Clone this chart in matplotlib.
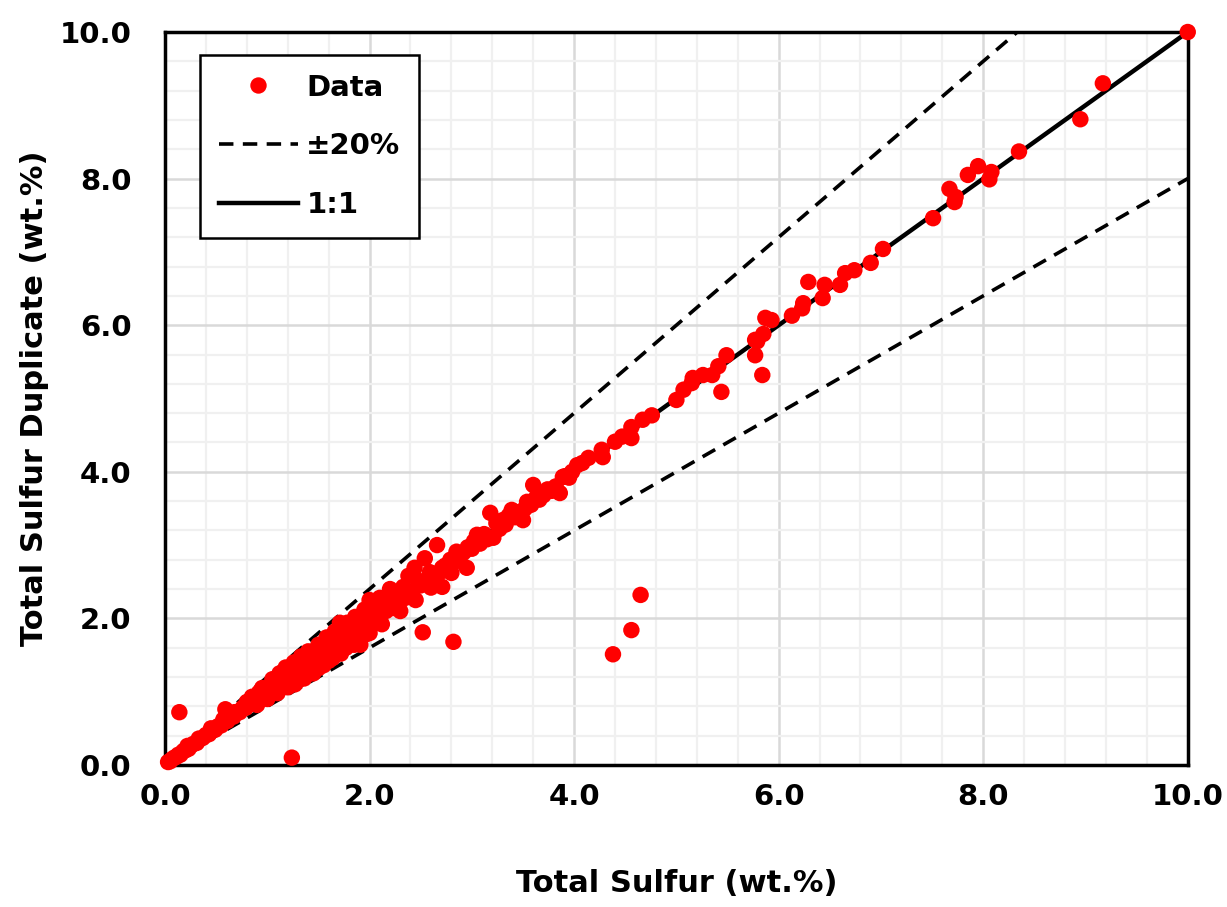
import matplotlib
matplotlib.use('Agg')
import matplotlib.pyplot as plt
from matplotlib.ticker import MultipleLocator, FormatStrFormatter
from matplotlib.lines import Line2D

x_low = [0.03, 0.05, 0.07, 0.09, 0.11, 0.13, 0.15, 0.18, 0.20, 0.23, 0.26, 0.28,
         0.31, 0.34, 0.37, 0.40, 0.43, 0.46, 0.49, 0.52, 0.55, 0.58, 0.59, 0.61,
         0.64, 0.67, 0.70, 0.73, 0.76, 0.79, 0.82, 0.85, 0.88, 0.91, 0.94, 0.97, 1.00,
         0.22, 0.33, 0.45, 0.57, 0.68, 0.80, 0.92]
y_low = [0.04, 0.05, 0.08, 0.10, 0.11, 0.14, 0.14, 0.19, 0.20, 0.22, 0.27, 0.29,
         0.30, 0.35, 0.37, 0.41, 0.42, 0.47, 0.48, 0.53, 0.54, 0.59, 0.76, 0.60,
         0.66, 0.66, 0.72, 0.72, 0.78, 0.78, 0.84, 0.84, 0.90, 0.90, 0.97, 0.96, 1.03,
         0.26, 0.36, 0.50, 0.62, 0.72, 0.86, 0.99]

x_mid = [1.02, 1.04, 1.06, 1.09, 1.11, 1.13, 1.15, 1.17, 1.19, 1.21, 1.23, 1.25,
         1.27, 1.30, 1.32, 1.34, 1.36, 1.39, 1.41, 1.43, 1.45, 1.48, 1.50, 1.52,
         1.55, 1.57, 1.60, 1.62, 1.64, 1.67, 1.69, 1.71, 1.72, 1.75, 1.77, 1.80,
         1.82, 1.84, 1.86, 1.88, 1.90, 1.92, 1.94, 1.96, 1.98, 2.00, 2.01, 2.03]
y_mid = [1.00, 1.10, 1.02, 1.14, 1.05, 1.18, 1.10, 1.22, 1.08, 1.28, 1.16, 1.20,
         1.10, 1.33, 1.22, 1.28, 1.18, 1.42, 1.30, 1.36, 1.25, 1.50, 1.40, 1.45,
         1.36, 1.60, 1.52, 1.58, 1.46, 1.72, 1.62, 1.94, 1.66, 1.80, 1.60, 1.86,
         1.74, 1.80, 1.70, 1.66, 1.95, 1.84, 1.90, 1.78, 2.05, 2.25, 1.94, 2.10]

# upper and lower fringe of the dense band
x_fringe = [0.85, 0.95, 1.05, 1.12, 1.18, 1.26, 1.33, 1.40, 1.50, 1.58, 1.66, 1.78,
            1.86, 1.95, 2.10, 2.20, 2.38,
            0.90, 1.00, 1.10, 1.20, 1.30, 1.40, 1.50, 1.60, 1.72, 1.85, 1.91, 2.00,
            2.12, 2.30, 2.45, 2.60, 2.80]
y_fringe = [0.93, 1.05, 1.17, 1.25, 1.33, 1.40, 1.48, 1.55, 1.64, 1.74, 1.82, 1.94,
            2.02, 2.12, 2.28, 2.40, 2.58,
            0.82, 0.90, 0.98, 1.06, 1.15, 1.24, 1.32, 1.42, 1.52, 1.64, 1.64, 1.80,
            1.92, 2.10, 2.25, 2.42, 2.62]

x_high = [2.05, 2.08, 2.10, 2.13, 2.16, 2.19, 2.23, 2.22, 2.26, 2.30, 2.33, 2.35,
          2.38, 2.41, 2.44, 2.47, 2.50, 2.54, 2.56, 2.59, 2.62, 2.66, 2.68, 2.71,
          2.71, 2.74, 2.77, 2.79, 2.82, 2.85, 2.88, 2.92, 2.95, 2.96, 3.00, 3.02,
          3.05, 3.08, 3.12, 3.15, 3.18, 3.21, 3.24, 3.27, 3.30, 3.33, 3.36, 3.39,
          3.42, 3.46, 3.50, 3.52, 3.54, 3.58, 3.60, 3.63, 3.66, 3.70, 3.74, 3.78,
          3.82, 3.86, 3.89, 3.91, 3.95, 3.98, 4.03, 4.08, 4.14]
y_high = [2.02, 2.15, 2.05, 2.18, 2.10, 2.22, 2.35, 2.14, 2.20, 2.30, 2.43, 2.28,
          2.36, 2.30, 2.69, 2.52, 2.45, 2.82, 2.48, 2.63, 2.55, 3.00, 2.62, 2.69,
          2.43, 2.72, 2.65, 2.80, 2.76, 2.91, 2.82, 2.90, 2.69, 2.97, 2.95, 3.05,
          3.14, 3.02, 3.15, 3.08, 3.44, 3.10, 3.30, 3.22, 3.34, 3.28, 3.40, 3.48,
          3.38, 3.45, 3.34, 3.50, 3.59, 3.55, 3.82, 3.65, 3.62, 3.68, 3.76, 3.74,
          3.80, 3.71, 3.93, 3.94, 3.92, 4.00, 4.09, 4.12, 4.19]

x_top = [4.27, 4.28, 4.40, 4.47, 4.56, 4.56, 4.67, 4.76, 5.00, 5.07, 5.15, 5.16,
         5.26, 5.35, 5.41, 5.44, 5.49, 5.77, 5.77, 5.79, 5.84, 5.85, 5.87, 5.93,
         6.13, 6.23, 6.24, 6.29, 6.43, 6.45, 6.60, 6.65, 6.74, 6.90, 7.02, 7.51,
         7.67, 7.72, 7.73, 7.85, 7.95, 8.06, 8.08, 8.35, 8.95, 9.17, 10.0]
y_top = [4.30, 4.20, 4.41, 4.48, 4.61, 4.46, 4.71, 4.77, 4.98, 5.12, 5.21, 5.28,
         5.32, 5.32, 5.44, 5.09, 5.59, 5.80, 5.59, 5.78, 5.32, 5.88, 6.10, 6.07,
         6.13, 6.23, 6.30, 6.59, 6.37, 6.55, 6.55, 6.71, 6.75, 6.85, 7.04, 7.46,
         7.86, 7.68, 7.75, 8.05, 8.17, 7.99, 8.09, 8.37, 8.81, 9.30, 10.0]

# points well off the 1:1 line
x_out = [0.14, 1.24, 2.52, 2.82, 4.38, 4.56, 4.65]
y_out = [0.72, 0.10, 1.81, 1.68, 1.51, 1.84, 2.32]

x_all = x_low + x_mid + x_fringe + x_high + x_top + x_out
y_all = y_low + y_mid + y_fringe + y_high + y_top + y_out

ref_x = [0.0, 10.0]
ratio_hi = 1.2
ratio_lo = 0.8

plt.rcParams['font.family'] = ['DejaVu Sans']
plt.rcParams['font.weight'] = 'bold'

fig = plt.figure(figsize=(12.27, 9.07), dpi=100)
ax = fig.add_axes([0.1345, 0.1566, 0.8335, 0.8081])

ax.set_axisbelow(True)
ax.xaxis.set_major_locator(MultipleLocator(2.0))
ax.yaxis.set_major_locator(MultipleLocator(2.0))
ax.xaxis.set_minor_locator(MultipleLocator(0.4))
ax.yaxis.set_minor_locator(MultipleLocator(0.4))
ax.grid(which='minor', color='#f0f0f0', lw=1.6)
ax.grid(which='major', color='#d9d9d9', lw=1.8)

ax.plot(ref_x, [v * ratio_hi for v in ref_x], color='black', lw=2.6,
        dashes=(4, 2.6), zorder=2)
ax.plot(ref_x, [v * ratio_lo for v in ref_x], color='black', lw=2.6,
        dashes=(4, 2.6), zorder=2)
ax.plot(ref_x, ref_x, color='black', lw=3.2, zorder=2)
ax.scatter(x_all, y_all, s=140, color='#ff0000', edgecolors='none',
           zorder=3, clip_on=False)

ax.set_xlim(0, 10)
ax.set_ylim(0, 10)
ax.xaxis.set_major_formatter(FormatStrFormatter('%.1f'))
ax.yaxis.set_major_formatter(FormatStrFormatter('%.1f'))
ax.tick_params(which='both', length=0)
ax.tick_params(axis='x', pad=13, labelsize=21)
ax.tick_params(axis='y', pad=24, labelsize=21)
for lab in ax.get_xticklabels() + ax.get_yticklabels():
    lab.set_fontweight('bold')
for sp in ax.spines.values():
    sp.set_linewidth(2.5)
    sp.set_color('black')

ax.set_xlabel('Total Sulfur (wt.%)', fontsize=22, fontweight='bold', labelpad=42)
ax.set_ylabel('Total Sulfur Duplicate (wt.%)', fontsize=22, fontweight='bold', labelpad=8)

handles = [
    Line2D([], [], ls='none', marker='o', ms=11.8, color='#ff0000', mec='none'),
    Line2D([], [], color='black', lw=2.6, dashes=(4, 2.6)),
    Line2D([], [], color='black', lw=3.2),
]
leg = ax.legend(handles, ['Data', '±20%', '1:1'], loc='upper left',
                bbox_to_anchor=(0.034, 0.969), borderaxespad=0, fancybox=False,
                framealpha=1, edgecolor='black', prop={'size': 21, 'weight': 'bold'},
                handlelength=2.7, handletextpad=0.3, labelspacing=1.05,
                borderpad=0.65)
leg.get_frame().set_linewidth(1.8)
leg.set_zorder(5)

fig.savefig('out.png', dpi=100)
